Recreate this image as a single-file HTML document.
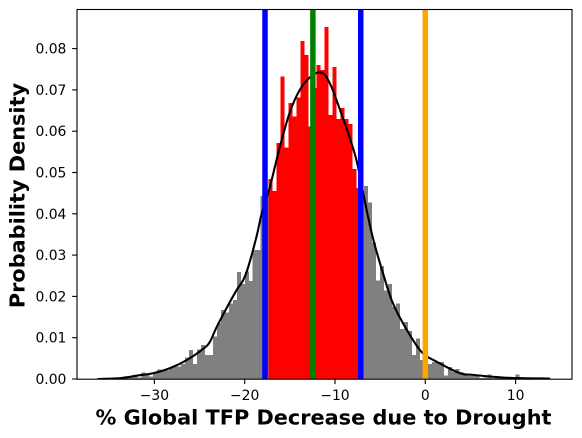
<!DOCTYPE html>
<html>
<head>
<meta charset="utf-8">
<style>
html,body{margin:0;padding:0;background:#fff;width:582px;height:438px;overflow:hidden}
svg{display:block}
text{font-family:"DejaVu Sans","Liberation Sans",sans-serif;fill:#000}
</style>
</head>
<body>
<svg id="chart" xmlns="http://www.w3.org/2000/svg" width="582" height="438" viewBox="0 0 582 438"></svg>
<script>
const binStart = -36.3;
const binWidth = 0.4408;
const densities = [
.0002,.0002,.0000,.0002,.0002,.0002,.0002,.0004,.0004,.0007,.0004,
.0016,.0013,.0006,.0014,.0023,.0020,.0021,.0027,.0031,.0030,.0036,
.0052,.0070,.0036,.0072,.0082,.0058,.0058,.0103,.0136,.0167,.0161,.0183,.0191,.0259,.0230,.0260,.0237,.0312,.0312,.0443,.0445,
.0484,.0455,.0572,.0732,.0560,.0668,.0635,.0681,
.0818,.0784,.0611,.0705,.0760,.0748,.0852,.0639,.0755,.0630,
.0656,.0630,.0617,.0508,.0463,.0440,.0467,.0427,.0330,.0238,
.0274,.0214,.0230,.0175,.0183,.0121,.0138,.0116,.0058,.0098,
.0046,.0055,.0036,.0041,.0041,.0041,.0008,.0029,.0017,.0024,
.0017,.0010,.0007,.0007,.0007,.0003,.0004,.0011,.0003,.0002,
.0002,.0002,.0002,.0002,.0011,.0002,.0001,.0001,.0001,.0001,.0001,.0001,.0001];
const curveX = [-36.3,-33.8,-32.0,-30.15,-28.3,-26.4,-24.6,-23.85,-23.1,-22.0,-20.9,-20.15,-19.6,-18.7,-18.1,-17.2,-16.1,-15.0,-13.9,-12.8,-11.9,-11.1,-10.35,-9.45,-8.55,-7.6,-6.7,-5.8,-4.7,-3.6,-2.05,-0.4,1.25,3.85,5.3,9.05,13.8];
const curveY = [.0000,.0002,.0008,.0014,.0026,.0046,.0073,.0090,.0126,.0172,.0215,.0240,.0272,.0344,.0402,.0466,.0563,.0646,.0700,.0730,.0742,.0736,.0705,.0652,.0596,.0528,.0431,.0341,.0257,.0184,.0119,.0065,.0042,.0014,.0010,.0003,.0001];
const xTicks = [-30,-20,-10,0,10];
const yTicks = [0,0.01,0.02,0.03,0.04,0.05,0.06,0.07,0.08];
const lowerBound = -17.75;
const upperBound = -7.15;
const medianValue = -12.45;
const zeroValue = 0;
const redStart = -17.4;
const redEnd = -7.15;

const NS = 'http://www.w3.org/2000/svg';
const svg = document.getElementById('chart');
const plot = {left:77,right:572,top:9.5,bottom:379.2};
function xPx(v){return 425.3 + 9.03*v;}
function yPx(v){return 379 - 4130*v;}
function make(tag, attrs){
  const el = document.createElementNS(NS, tag);
  for (const k in attrs) el.setAttribute(k, attrs[k]);
  return el;
}
function fmtX(v){return v < 0 ? '\u2212' + Math.abs(v) : String(v);}
function smoothPath(xs, ys){
  const p = xs.map(function(x, i){return [xPx(x), yPx(ys[i])];});
  let d = 'M' + p[0][0].toFixed(2) + ' ' + p[0][1].toFixed(2);
  for (let i = 0; i < p.length - 1; i++){
    const a = p[Math.max(i-1,0)], b = p[i], c = p[i+1], e = p[Math.min(i+2,p.length-1)];
    const c1x = b[0] + (c[0]-a[0])/6, c1y = b[1] + (c[1]-a[1])/6;
    const c2x = c[0] - (e[0]-b[0])/6, c2y = c[1] - (e[1]-b[1])/6;
    d += 'C' + c1x.toFixed(2) + ' ' + c1y.toFixed(2) + ' ' + c2x.toFixed(2) + ' ' + c2y.toFixed(2) + ' ' + c[0].toFixed(2) + ' ' + c[1].toFixed(2);
  }
  return d;
}

const clip = make('clipPath', {id:'plot-clip'});
clip.appendChild(make('rect', {x:plot.left,y:plot.top,width:plot.right-plot.left,height:plot.bottom-plot.top}));
svg.appendChild(clip);

const barsGroup = make('g', {'clip-path':'url(#plot-clip)','shape-rendering':'crispEdges'});


svg.appendChild(barsGroup);
densities.forEach(function(d, i){
  const a = binStart + i*binWidth;
  const b = a + binWidth;
  const mid = (a + b)/2;
  const inside = mid >= redStart && mid <= redEnd;
  const r = make('rect', {x:xPx(a),y:yPx(d),width:xPx(b)-xPx(a)+0.02,height:yPx(0)-yPx(d),fill:inside?'#ff0000':'#808080'});
  
  
  barsGroup.appendChild(r);
});

const curve = make('path', {d:smoothPath(curveX, curveY),fill:'none',stroke:'#000','stroke-width':2.1,'stroke-linejoin':'round','clip-path':'url(#plot-clip)'});


svg.appendChild(curve);

function vline(v, color){
  const l = make('line', {x1:xPx(v),x2:xPx(v),y1:plot.top,y2:plot.bottom,stroke:color,'stroke-width':5.5});
  svg.appendChild(l);
  return l;
}
const lowLine = vline(lowerBound, '#0000ff');


const highLine = vline(upperBound, '#0000ff');


const medLine = vline(medianValue, '#008000');


const zeroLine = vline(zeroValue, '#ffa500');



const frame = make('rect', {x:plot.left,y:plot.top,width:plot.right-plot.left,height:plot.bottom-plot.top,fill:'none',stroke:'#000','stroke-width':1.1});


svg.appendChild(frame);

xTicks.forEach(function(v){
  const t = make('line', {x1:xPx(v),x2:xPx(v),y1:plot.bottom,y2:plot.bottom+4.9,stroke:'#000','stroke-width':1.1});
  
  
  svg.appendChild(t);
  const s = make('text', {x:xPx(v),y:400,'text-anchor':'middle','font-size':13.9});
  
  
  s.textContent = fmtX(v);
  svg.appendChild(s);
});
yTicks.forEach(function(v){
  const t = make('line', {x1:plot.left-4.9,x2:plot.left,y1:yPx(v),y2:yPx(v),stroke:'#000','stroke-width':1.1});
  
  
  svg.appendChild(t);
  const s = make('text', {x:66.4,y:yPx(v)+5,'text-anchor':'end','font-size':13.9});
  
  
  s.textContent = v.toFixed(2);
  svg.appendChild(s);
});

const xTitle = make('text', {x:323.5,y:424.4,'text-anchor':'middle','font-size':20.83,'font-weight':'bold'});


xTitle.textContent = '% Global TFP Decrease due to Drought';
svg.appendChild(xTitle);

const yTitle = make('text', {x:0,y:0,'text-anchor':'middle','font-size':20.83,'font-weight':'bold',transform:'translate(24.7,195.5) rotate(-90)'});


yTitle.textContent = 'Probability Density';
svg.appendChild(yTitle);
</script>
</body>
</html>
